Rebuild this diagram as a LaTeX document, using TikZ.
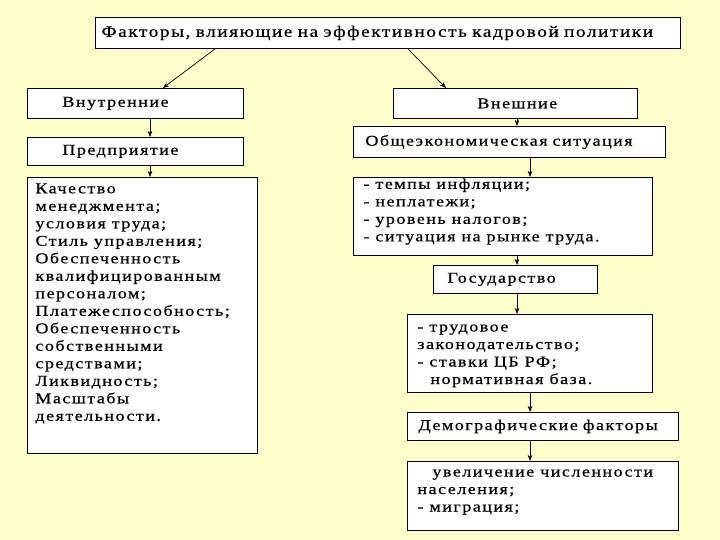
\documentclass[tikz,border=0pt]{standalone}
\usepackage{fontspec}
\setmainfont{Liberation Serif}[FakeStretch=1.2, LetterSpace=10, FakeBold=0.6]
\usepackage{tikz}
\usetikzlibrary{positioning, arrows.meta, calc}
\definecolor{paleyellow}{RGB}{255,255,204}
\newcommand{\listtext}[3]{\parbox[c][#2][t]{#1}{\raggedright\fontsize{15}{17.5}\selectfont #3}}

\begin{document}
\begin{tikzpicture}[x=1pt, y=-1pt, >=Stealth, font=\fontsize{15}{17.5}\selectfont,
        box/.style={draw, fill=white, line width=0.9pt, anchor=north west, inner ysep=0pt, align=left},
        listbox/.style={draw, fill=white, line width=0.9pt, anchor=north west},
        conn/.style={->, line width=0.7pt}]
      \fill[paleyellow] (0,0) rectangle (720,540);
      \useasboundingbox (0,0) rectangle (720,540);
      % header
      \node[box, minimum width=585pt, minimum height=31pt, inner xsep=6pt, text width=573pt,
            font=\fontsize{16}{19}\selectfont] (title) at (95,17)
        {Факторы, влияющие на эффективность кадровой политики};
      % internal factors
      \node[box, minimum width=216pt, minimum height=30pt, inner xsep=35pt, text width=146pt] (inner) at (27,88) {Внутренние};
      \node[box, minimum width=216pt, minimum height=28pt, inner xsep=35pt, text width=146pt] (pred) at (27,137) {Предприятие};
      \node[listbox, inner xsep=8pt, inner ysep=6pt] (lstL) at (27,177) {\listtext{214pt}{264pt}{%
        Качество\\ менеджмента;\\ условия труда;\\ Стиль управления;\\ Обеспеченность\\ квалифицированным\\
        персоналом;\\ Платежеспособность;\\ Обеспеченность\\ собственными\\ средствами;\\ Ликвидность;\\
        Масштабы\\ деятельности.}};
      % external factors
      \node[box, minimum width=244pt, minimum height=30pt, inner xsep=84pt, text width=76pt] (outer) at (393,88) {Внешние};
      \node[box, minimum width=312pt, minimum height=31pt, inner xsep=12pt, text width=288pt] (obsh) at (353,126) {Общеэкономическая ситуация};
      \node[listbox, inner xsep=10pt, inner ysep=1pt] (lstR1) at (353,177) {\listtext{279pt}{76pt}{%
        - темпы инфляции;\\ - неплатежи;\\ - уровень налогов;\\ - ситуация на рынке труда.}};
      \node[box, minimum width=164pt, minimum height=28pt, inner xsep=14pt, text width=136pt] (gos) at (433,265) {Государство};
      \node[listbox, inner xsep=10pt, inner ysep=10pt] (lstR2) at (407,314) {\listtext{225pt}{58pt}{%
        - трудовое\\ законодательство;\\ - ставки ЦБ РФ;\\ \hspace*{13pt}нормативная база.}};
      \node[box, minimum width=271pt, minimum height=28pt, inner xsep=11pt, text width=249pt] (demo) at (407,412) {Демографические факторы};
      \node[listbox, inner xsep=10pt, inner ysep=8pt] (lstR3) at (407,461) {\listtext{251pt}{53pt}{%
        \hspace*{15pt}увеличение численности\\ населения;\\ - миграция;}};
      % connector columns
      \coordinate (colL) at (150,0);
      \coordinate (colR) at (517,0);
      \coordinate (colRR) at (530,0);
      \draw[conn] ([xshift=120pt]title.south west) -- ([xshift=136pt]inner.north west);
      \draw[conn] ([xshift=313pt]title.south west) -- ([xshift=53pt]outer.north west);
      \draw[conn] (inner.south -| colL) -- (pred.north -| colL);
      \draw[conn] (pred.south -| colL) -- (lstL.north -| colL);
      \draw[conn] (outer.south -| colR) -- (obsh.north -| colR);
      \draw[conn] (obsh.south -| colRR) -- (lstR1.north -| colRR);
      \draw[conn] (lstR1.south -| colR) -- (gos.north -| colR);
      \draw[conn] (gos.south -| colR) -- (lstR2.north -| colR);
      \draw[conn] (lstR2.south -| colRR) -- (demo.north -| colRR);
      \draw[conn] (demo.south -| colRR) -- (lstR3.north -| colRR);
    \end{tikzpicture}
\end{document}
